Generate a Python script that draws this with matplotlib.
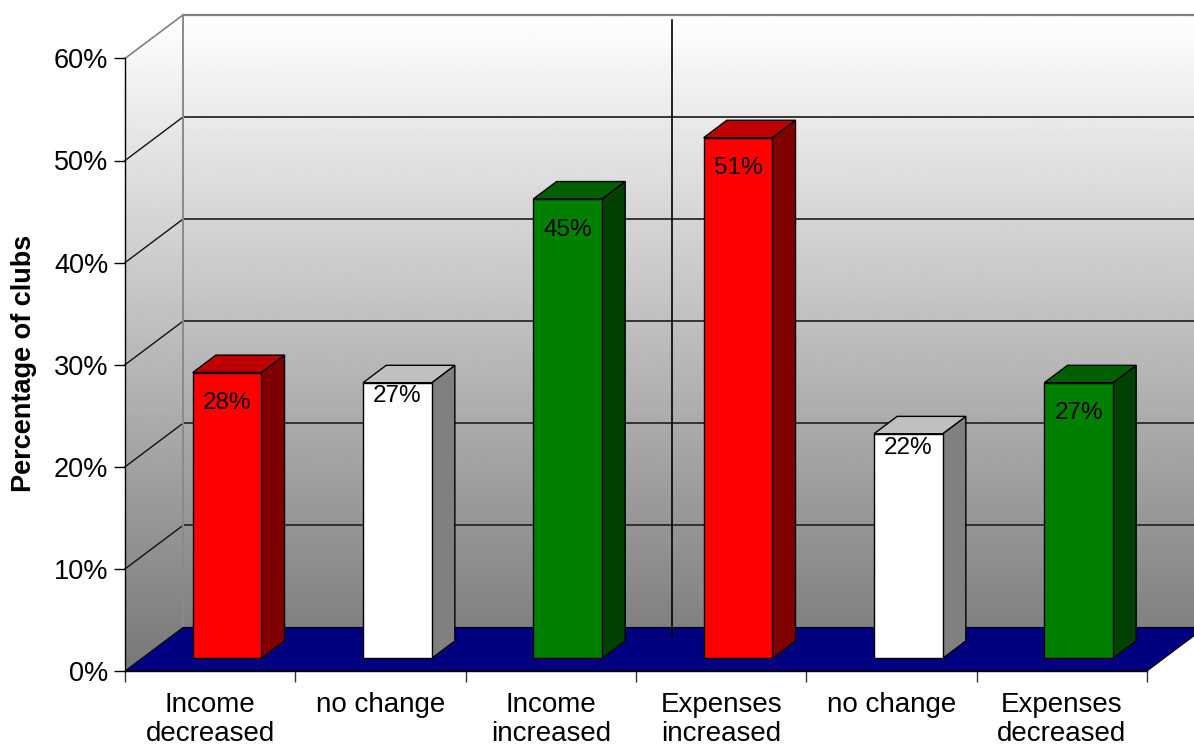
import numpy as np
import matplotlib
matplotlib.use("Agg")
import matplotlib.pyplot as plt
from matplotlib.patches import Polygon

plt.rcParams['font.family'] = ['Liberation Sans', 'DejaVu Sans']

# ====== Data ======
categories = ["Income\ndecreased", "no change", "Income\nincreased",
              "Expenses\nincreased", "no change", "Expenses\ndecreased"]
values = [28, 27, 45, 51, 22, 27]
kinds = ["down", "same", "up", "down", "same", "up"]
y_ticks = [0, 10, 20, 30, 40, 50, 60]

# face colours (front, top, side) and where the value label sits below the top
styles = {
    "down": dict(front="#FF0000", top="#C00000", side="#800000", label_drop=3.0),
    "same": dict(front="#FFFFFF", top="#C0C0C0", side="#808080", label_drop=1.35),
    "up":   dict(front="#008000", top="#006000", side="#004000", label_drop=3.0),
}

# 3D look: wall depth in data units, bar placement inside that depth
DX, DY = 0.3405, 4.26
F0, F1 = 0.29, 0.69
BAR_W = 0.403
YMAX = 60
n = len(values)

fig = plt.figure(figsize=(11.94, 7.49), dpi=100)
ax = fig.add_axes([0, 0, 1, 1])
xlim = (-0.734, 6.276)
ylim = (-7.64, 65.72)

# walls with a white -> grey gradient
grad = np.linspace(0.47, 1.0, 256).reshape(-1, 1)
back_wall = Polygon([(DX, DY), (n + DX, DY), (n + DX, YMAX + DY), (DX, YMAX + DY)],
                    closed=True, transform=ax.transData)
side_wall = Polygon([(0, 0), (DX, DY), (DX, YMAX + DY), (0, YMAX)],
                    closed=True, transform=ax.transData)
for wall in (back_wall, side_wall):
    im = ax.imshow(grad, cmap="gray", vmin=0, vmax=1, origin="lower", aspect="auto",
                   extent=[xlim[0], xlim[1], 0, YMAX + DY], zorder=0)
    im.set_clip_path(wall)

# gridlines on both walls
for t in y_ticks[1:-1]:
    ax.plot([DX, n + DX], [t + DY, t + DY], color="#2a2a2a", lw=1.3, zorder=1)
    ax.plot([0, DX], [t, t + DY], color="#111111", lw=1.0, zorder=1)
ax.plot([DX, n + DX], [YMAX + DY, YMAX + DY], color="#808080", lw=1.6, zorder=1)
ax.plot([0, DX], [YMAX, YMAX + DY], color="#808080", lw=1.2, zorder=1)
ax.plot([DX, DX], [DY, YMAX + DY], color="#8a8a8a", lw=1.4, zorder=1)

# floor
ax.add_patch(Polygon([(0, 0), (n, 0), (n + DX, DY), (DX, DY)], closed=True,
                     facecolor="#000080", edgecolor="black", lw=0.8, zorder=2))

# divider between the income and expenses groups
split = 3
ax.plot([split + 0.62 * DX] * 2, [0.78 * DY, YMAX + 0.88 * DY], color="black", lw=1.2, zorder=2.2)

# bars
for i, (v, k) in enumerate(zip(values, kinds)):
    s = styles[k]
    xl = i + 0.5 - BAR_W / 2
    xr = i + 0.5 + BAR_W / 2
    fx0, fy0 = F0 * DX, F0 * DY
    fx1, fy1 = F1 * DX, F1 * DY
    front = [(xl + fx0, fy0), (xr + fx0, fy0), (xr + fx0, v + fy0), (xl + fx0, v + fy0)]
    top = [(xl + fx0, v + fy0), (xr + fx0, v + fy0), (xr + fx1, v + fy1), (xl + fx1, v + fy1)]
    side = [(xr + fx0, fy0), (xr + fx1, fy1), (xr + fx1, v + fy1), (xr + fx0, v + fy0)]
    for pts, col in ((side, s["side"]), (top, s["top"]), (front, s["front"])):
        ax.add_patch(Polygon(pts, closed=True, facecolor=col, edgecolor="black",
                             lw=1.0, zorder=3))
    ax.text(i + 0.5 + fx0, v + fy0 - s["label_drop"], f"{v}%", ha="center", va="center",
            fontsize=17.5, color="black", zorder=4)

# axes
ax.set_xlim(*xlim)
ax.set_ylim(*ylim)
for side_name in ("top", "right"):
    ax.spines[side_name].set_visible(False)
ax.spines["left"].set_position(("data", 0))
ax.spines["left"].set_bounds(0, YMAX)
ax.spines["bottom"].set_position(("data", 0))
ax.spines["bottom"].set_bounds(0, n)
for sp in ("left", "bottom"):
    ax.spines[sp].set_color("black")
    ax.spines[sp].set_linewidth(1.0)
    ax.spines[sp].set_zorder(2.5)

ax.set_yticks(y_ticks)
ax.set_yticklabels([f"{t}%" for t in y_ticks])
ax.tick_params(axis="y", length=8, width=1, pad=4, labelsize=19.5, color="black")

ax.set_xticks(range(n + 1))
ax.set_xticklabels([""] * (n + 1))
ax.set_xticks([i + 0.5 for i in range(n)], minor=True)
ax.set_xticklabels(categories, minor=True, fontsize=20, linespacing=1.15)
ax.tick_params(axis="x", which="major", length=8, width=1, color="#333333")
ax.tick_params(axis="x", which="minor", length=0, pad=15)

ax.set_ylabel("Percentage of clubs", fontsize=19.5, fontweight="bold")
ax.yaxis.set_label_coords(37 / 1194, 0.515)

fig.savefig("out.png", dpi=100)
